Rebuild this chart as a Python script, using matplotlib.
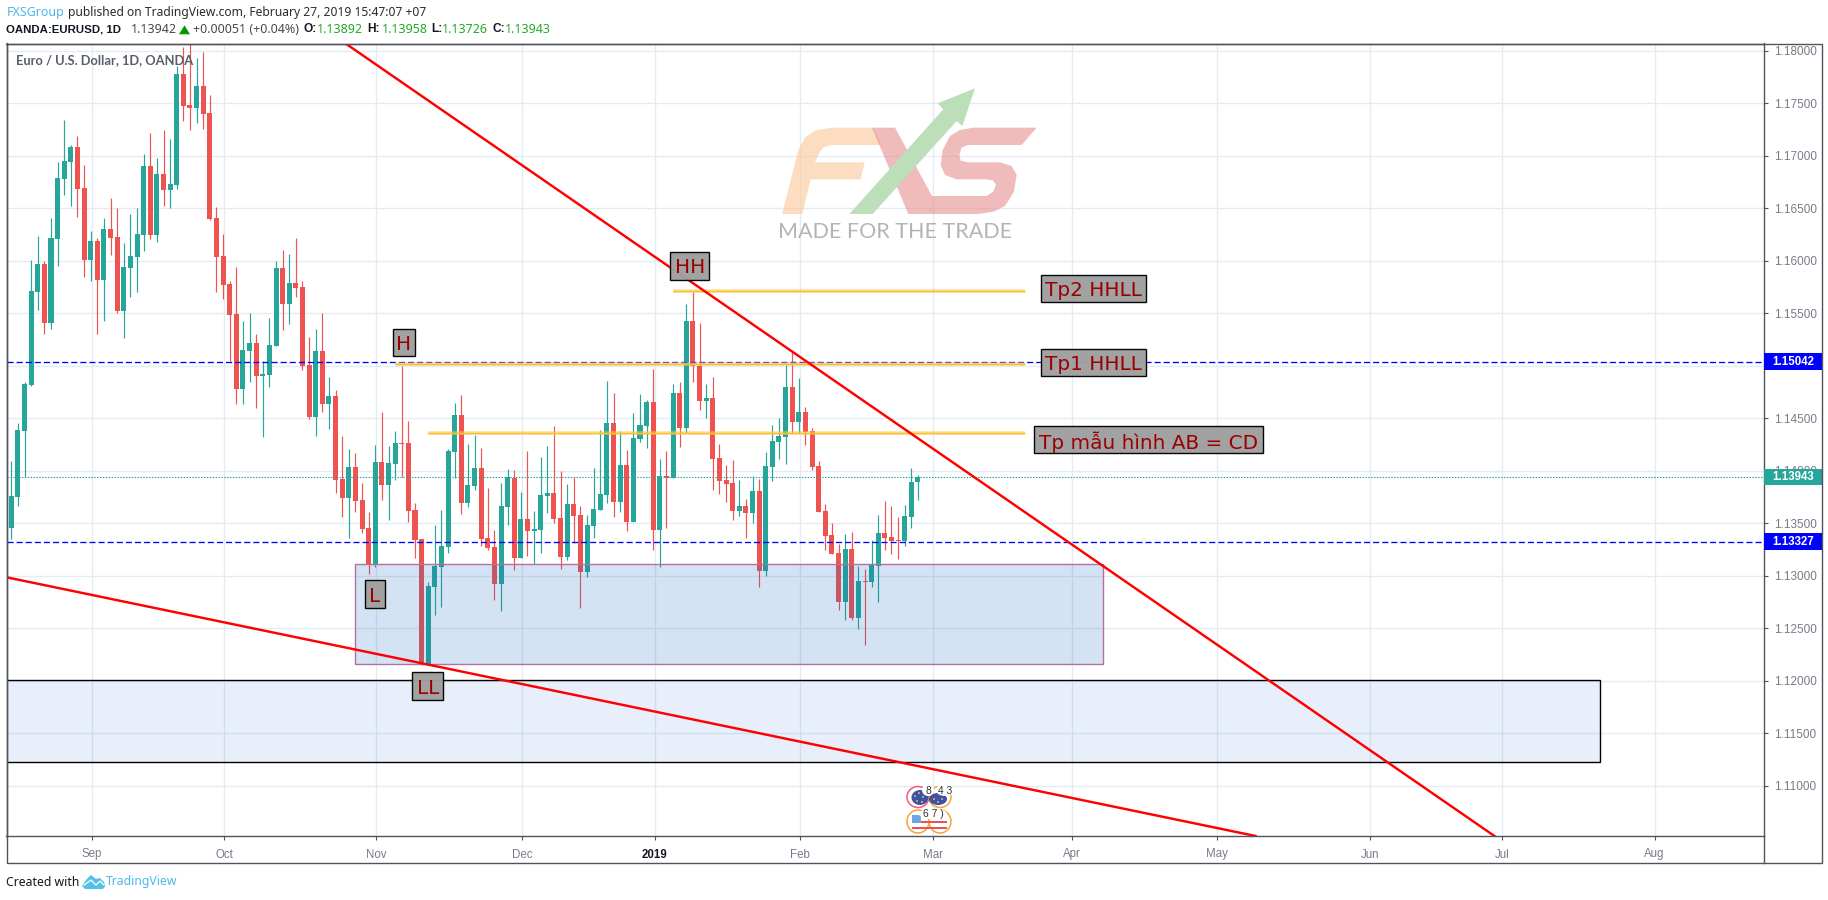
import matplotlib
matplotlib.use("Agg")
import matplotlib.pyplot as plt
import numpy as np
from matplotlib.lines import Line2D
from matplotlib.patches import Ellipse, Polygon, Rectangle

# ======================================================
# Data (EURUSD daily candles)
# ======================================================

open_ = [
    1.13460, 1.13755, 1.14384, 1.14819, 1.15708, 1.15972, 1.15412, 1.16212, 1.16781, 1.16943,
    1.17086, 1.16695, 1.16010, 1.16191, 1.15822, 1.16305, 1.16229, 1.15524, 1.15934, 1.16038,
    1.16248, 1.16905, 1.16248, 1.16829, 1.16676, 1.16724, 1.17781, 1.17486, 1.17457, 1.17667,
    1.17410, 1.16410, 1.16048, 1.15781, 1.15495, 1.14781, 1.15143, 1.15219, 1.14905, 1.14914,
    1.15190, 1.15934, 1.15590, 1.15791, 1.15752, 1.15010, 1.14514, 1.15143, 1.14638, 1.14714,
    1.13924, 1.13743, 1.14038, 1.13724, 1.13457, 1.13114, 1.14086, 1.13867, 1.14067, 1.14267,
    1.14267, 1.13629, 1.13352, 1.12162, 1.12895, 1.13086, 1.13276, 1.14181, 1.14533, 1.13695,
    1.13857, 1.14029, 1.13362, 1.13276, 1.12924, 1.13657, 1.13933, 1.13171, 1.13543, 1.13429,
    1.13438, 1.13762, 1.13790, 1.13552, 1.13181, 1.13686, 1.13581, 1.13038, 1.13476, 1.13629,
    1.13771, 1.14457, 1.13705, 1.14057, 1.13514, 1.14305, 1.14429, 1.14657, 1.13438, 1.13952,
    1.13933, 1.14743, 1.14410, 1.15429, 1.15000, 1.14667, 1.14695, 1.14124, 1.13914, 1.13886,
    1.13619, 1.13667, 1.13600, 1.13810, 1.13048, 1.14038, 1.14276, 1.14324, 1.14800, 1.14467,
    1.14562, 1.14381, 1.14048, 1.13619, 1.13391, 1.13219, 1.12752, 1.13257, 1.12600, 1.12952,
    1.12943, 1.13095, 1.13410, 1.13372, 1.13343, 1.13333, 1.13562, 1.13892,
]
high = [
    1.14095, 1.14457, 1.14847, 1.16010, 1.16238, 1.16000, 1.16410, 1.16943, 1.17343, 1.17105,
    1.17191, 1.16914, 1.16286, 1.16219, 1.16410, 1.16600, 1.16505, 1.16171, 1.16448, 1.16505,
    1.17019, 1.17219, 1.16981, 1.17248, 1.17162, 1.17857, 1.18038, 1.18090, 1.17933, 1.17990,
    1.17581, 1.16514, 1.16257, 1.15810, 1.15943, 1.15429, 1.15505, 1.15305, 1.15048, 1.15457,
    1.16000, 1.16105, 1.16067, 1.16219, 1.15810, 1.15276, 1.15352, 1.15505, 1.14895, 1.14771,
    1.14333, 1.14210, 1.14171, 1.13886, 1.13610, 1.14248, 1.14562, 1.14238, 1.14381, 1.15000,
    1.14476, 1.13695, 1.13352, 1.12943, 1.13486, 1.13629, 1.14210, 1.14648, 1.14724, 1.14257,
    1.14343, 1.14219, 1.13838, 1.13438, 1.13886, 1.14019, 1.14010, 1.13800, 1.14190, 1.13619,
    1.14133, 1.14238, 1.14429, 1.14000, 1.13876, 1.13943, 1.13667, 1.13581, 1.14029, 1.14390,
    1.14857, 1.14743, 1.14381, 1.14200, 1.14552, 1.14733, 1.14676, 1.14971, 1.14114, 1.14190,
    1.14829, 1.14848, 1.15590, 1.15705, 1.15410, 1.14829, 1.14895, 1.14257, 1.14057, 1.14105,
    1.13914, 1.13733, 1.13952, 1.13924, 1.14181, 1.14438, 1.14505, 1.15010, 1.15133, 1.14886,
    1.14610, 1.14410, 1.14095, 1.13686, 1.13505, 1.13305, 1.13400, 1.13419, 1.13095, 1.13067,
    1.13343, 1.13581, 1.13714, 1.13667, 1.13562, 1.13676, 1.14029, 1.13958,
]
low = [
    1.13353, 1.13670, 1.13943, 1.14809, 1.15534, 1.15307, 1.15355, 1.15955, 1.16629, 1.16527,
    1.16419, 1.15848, 1.15810, 1.15307, 1.15432, 1.16057, 1.15505, 1.15269, 1.15657, 1.15705,
    1.16095, 1.16210, 1.16181, 1.16524, 1.16505, 1.16686, 1.17333, 1.17248, 1.17314, 1.17257,
    1.16391, 1.15705, 1.15638, 1.15048, 1.14638, 1.14638, 1.14848, 1.14600, 1.14324, 1.14800,
    1.15190, 1.15343, 1.15400, 1.15657, 1.14962, 1.14495, 1.14333, 1.14562, 1.14400, 1.13790,
    1.13562, 1.13362, 1.13610, 1.13410, 1.13019, 1.13086, 1.13724, 1.13533, 1.13914, 1.13943,
    1.13514, 1.13171, 1.12152, 1.12152, 1.12629, 1.12705, 1.13219, 1.13933, 1.13590, 1.13657,
    1.13819, 1.13286, 1.13248, 1.12771, 1.12667, 1.13486, 1.13057, 1.13171, 1.13190, 1.13114,
    1.13219, 1.13600, 1.13505, 1.13067, 1.13152, 1.13314, 1.12695, 1.12990, 1.13362, 1.13629,
    1.13695, 1.13562, 1.13610, 1.13429, 1.13514, 1.14276, 1.14219, 1.13248, 1.13086, 1.13457,
    1.13933, 1.14229, 1.14362, 1.14848, 1.14581, 1.14505, 1.13819, 1.13781, 1.13705, 1.13533,
    1.13571, 1.13362, 1.13505, 1.12895, 1.13000, 1.13905, 1.14114, 1.14067, 1.14362, 1.14362,
    1.14248, 1.14010, 1.13610, 1.13248, 1.13210, 1.12676, 1.12581, 1.12581, 1.12495, 1.12343,
    1.12895, 1.12752, 1.13248, 1.13210, 1.13162, 1.13286, 1.13457, 1.13726,
]
close = [
    1.13762, 1.14390, 1.14828, 1.15715, 1.15972, 1.15412, 1.16219, 1.16791, 1.16952, 1.17086,
    1.16686, 1.16010, 1.16191, 1.15822, 1.16305, 1.16219, 1.15524, 1.15943, 1.16048, 1.16257,
    1.16905, 1.16248, 1.16829, 1.16676, 1.16733, 1.17781, 1.17476, 1.17457, 1.17667, 1.17400,
    1.16400, 1.16038, 1.15772, 1.15486, 1.14781, 1.15152, 1.15219, 1.14905, 1.14924, 1.15200,
    1.15934, 1.15590, 1.15791, 1.15743, 1.15000, 1.14514, 1.15143, 1.14638, 1.14714, 1.13914,
    1.13743, 1.14038, 1.13714, 1.13448, 1.13114, 1.14086, 1.13867, 1.14076, 1.14267, 1.14257,
    1.13619, 1.13343, 1.12162, 1.12905, 1.13095, 1.13286, 1.14190, 1.14533, 1.13695, 1.13867,
    1.14029, 1.13352, 1.13267, 1.12924, 1.13667, 1.13943, 1.13171, 1.13543, 1.13429, 1.13448,
    1.13771, 1.13790, 1.13543, 1.13181, 1.13686, 1.13571, 1.13038, 1.13486, 1.13638, 1.13781,
    1.14457, 1.13705, 1.14057, 1.13514, 1.14314, 1.14438, 1.14657, 1.13438, 1.13952, 1.13933,
    1.14743, 1.14410, 1.15429, 1.15000, 1.14667, 1.14695, 1.14114, 1.13905, 1.13876, 1.13619,
    1.13667, 1.13600, 1.13810, 1.13048, 1.14048, 1.14286, 1.14333, 1.14800, 1.14467, 1.14562,
    1.14371, 1.14038, 1.13610, 1.13381, 1.13210, 1.12752, 1.13257, 1.12600, 1.12952, 1.12943,
    1.13105, 1.13410, 1.13362, 1.13333, 1.13333, 1.13571, 1.13895, 1.13943,
]

# month ticks, in bars from the first candle
month_pos = [12.15, 32.2, 55.15, 77.2, 97.2, 119.2, 139.2, 160.23, 182.25, 205.25, 225.3, 248.3]
month_labels = ["Sep", "Oct", "Nov", "Dec", "2019", "Feb", "Mar", "Apr", "May", "Jun", "Jul", "Aug"]

price_ticks = [1.11, 1.115, 1.12, 1.125, 1.13, 1.135, 1.14, 1.145, 1.15, 1.155,
               1.16, 1.165, 1.17, 1.175, 1.18]

last_price = 1.13943
level_high = 1.15042
level_low = 1.13327

# trend lines: (bar, price) at both ends
trend_down = ([50.68, 224.1], [1.18064, 1.10524])
trend_low = ([-0.73, 188.0], [1.12988, 1.10524])

# take profit lines: start bar, end bar, price
tp_lines = [
    (99.98, 153.13, 1.15711),
    (57.98, 153.13, 1.15016),
    (62.96, 153.13, 1.14359),
]

# zones: bar from, bar to, price from, price to
zone_support = (51.98, 165.0, 1.12159, 1.13111)
zone_demand = (-0.73, 240.1, 1.11226, 1.12007)

# labels on the chart: text, bar from, bar to, price from, price to
chart_labels = [
    ("H", 57.63, 61.05, 1.15092, 1.15350),
    ("L", 53.49, 56.42, 1.12698, 1.12959),
    ("LL", 60.59, 65.28, 1.11819, 1.12083),
    ("HH", 99.58, 105.47, 1.15822, 1.16083),
    ("Tp2 HHLL", 155.64, 171.50, 1.15607, 1.15864),
    ("Tp1 HHLL", 155.64, 171.50, 1.14902, 1.15159),
    ("Tp mẫu hình AB = CD", 154.58, 189.18, 1.14169, 1.14426),
]

UP = "#26a69a"
DOWN = "#ef5350"
GRID = "#e3ecf2"
FRAME = "#50535e"
TICK_TEXT = "#787b86"
BLUE = "#0000ff"

# ======================================================
# Figure and axes
# ======================================================

W, H = 1828, 900
fig = plt.figure(figsize=(W / 100, H / 100), dpi=100, facecolor="white")

ax = fig.add_axes([6.5 / W, (H - 836) / H, (1764 - 6.5) / W, (836 - 43.5) / H])
ax.set_xlim(-0.725, 264.84)
ax.set_ylim(1.105238, 1.180714)

ax.set_xticks(month_pos)
ax.set_xticklabels(month_labels, fontfamily="Liberation Sans", fontsize=8.3, color=TICK_TEXT)
ax.get_xticklabels()[4].set_fontweight("bold")
ax.get_xticklabels()[4].set_color("#131722")
ax.yaxis.tick_right()
ax.set_yticks(price_ticks)
ax.set_yticklabels([f"{p:.5f}" for p in price_ticks], fontfamily="Liberation Sans",
                   fontsize=8.5, color=TICK_TEXT)
ax.tick_params(axis="x", length=3, width=0.8, color=FRAME, pad=6)
ax.tick_params(axis="y", length=3, width=0.8, color=FRAME, pad=4.3)
ax.grid(True, color=GRID, linewidth=1.0)
ax.set_axisbelow(True)
for spine in ax.spines.values():
    spine.set_color(FRAME)
    spine.set_linewidth(1.0)

# ======================================================
# Candles
# ======================================================

bars = np.arange(len(close))
o = np.array(open_)
c = np.array(close)
colors = [UP if c[i] >= o[i] else DOWN for i in bars]

ax.vlines(bars, low, high, colors=colors, linewidth=0.85, zorder=2)
ax.bar(bars, np.abs(c - o), bottom=np.minimum(o, c), width=0.76, color=colors, zorder=2.1)

# ======================================================
# Zones, levels, trend lines
# ======================================================

x0, x1, y0, y1 = zone_support
ax.add_patch(Rectangle((x0, y0), x1 - x0, y1 - y0, facecolor=(0.082, 0.396, 0.753, 0.18),
                       edgecolor="#b5709f", linewidth=1.0, zorder=3))
x0, x1, y0, y1 = zone_demand
ax.add_patch(Rectangle((x0, y0), x1 - x0, y1 - y0, facecolor=(0.13, 0.39, 0.86, 0.10),
                       edgecolor="black", linewidth=1.0, zorder=3))

ax.axhline(last_price, color=UP, linewidth=0.8, dashes=(1.3, 1.3), zorder=3.2)
for level in [level_high, level_low]:
    ax.axhline(level, color=BLUE, linewidth=0.95, dashes=(4.6, 2.3), zorder=3.2)

for start, end, price in tp_lines:
    ax.plot([start, end], [price, price], color="#f9c74f", linewidth=2.6, alpha=0.55,
            solid_capstyle="butt", zorder=3.4)
    ax.plot([start, end], [price, price], color="#fbc02d", linewidth=1.0,
            solid_capstyle="butt", zorder=3.5)

ax.plot(trend_down[0], trend_down[1], color="#ff0000", linewidth=1.75, zorder=4)
ax.plot(trend_low[0], trend_low[1], color="#ff0000", linewidth=1.75, zorder=4)

for text, bx0, bx1, py0, py1 in chart_labels:
    ax.add_patch(Rectangle((bx0, py0), bx1 - bx0, py1 - py0, facecolor="#9f9f9f",
                           edgecolor="black", linewidth=1.0, alpha=0.97, zorder=5))
    ax.text((bx0 + bx1) / 2, (py0 + py1) / 2, text, color="#990000", fontsize=14.4,
            family="DejaVu Sans", ha="center", va="center_baseline", zorder=5.1)

# ======================================================
# Price labels on the right scale
# ======================================================

right_end = (1821.6 - 6.5) / (1764 - 6.5)
trans = ax.get_yaxis_transform()
for price, colour in [(level_high, BLUE), (level_low, BLUE), (last_price, UP)]:
    ax.add_patch(Rectangle((1.0, price - 0.0008), right_end - 1.0, 0.0016, facecolor=colour,
                           edgecolor="none", transform=trans, clip_on=False, zorder=6))
    ax.text(1.0 + (right_end - 1.0) / 2, price, f"{price:.5f}", color="white", fontsize=8.3,
            fontweight="bold", family="Liberation Sans", ha="center", va="center",
            transform=trans, clip_on=False, zorder=6.1)

# ======================================================
# Page furniture (overlay in pixels)
# ======================================================

top = fig.add_axes([0, 0, 1, 1], zorder=10)
top.set_xlim(0, W)
top.set_ylim(H, 0)
top.axis("off")

top.add_patch(Rectangle((6.5, 43.5), 1821.6 - 6.5, 863.3 - 43.5, fill=False,
                        edgecolor=FRAME, linewidth=1.0))
top.add_line(Line2D([1764, 1764], [836, 863.3], color=FRAME, linewidth=1.0))

HEAD = "Noto Sans"
HEAD_BOLD = "Liberation Sans"
GREEN = "#22ab28"
top.text(6.3, 12.5, "FXSGroup", color="#4db8ea", fontsize=9.0, family=HEAD, va="center")
top.text(68, 12.5, "published on TradingView.com, February 27, 2019 15:47:07 +07",
         color="#2b2b2b", fontsize=8.7, family=HEAD, va="center")

top.text(6.3, 29.5, "OANDA:EURUSD, 1D", color="#131722", fontsize=8.2, family=HEAD_BOLD,
         fontweight="bold", va="center")
top.text(130.7, 29.5, "1.13942", color="#4a4a4a", fontsize=9.0, family=HEAD, va="center")
top.add_patch(Polygon([(179, 34.3), (190, 34.3), (184.5, 25.3)], facecolor="#009900"))
top.text(193.3, 29.5, "+0.00051 (+0.04%)", color="#4a4a4a", fontsize=9.0, family=HEAD, va="center")
for name, xn, value, xv in [("O:", 303.3, "1.13892", 317.3), ("H:", 367.7, "1.13958", 381.7),
                            ("L:", 431.7, "1.13726", 442.3), ("C:", 492.7, "1.13943", 504.7)]:
    top.text(xn, 29.5, name, color="#131722", fontsize=8.6, family=HEAD_BOLD, fontweight="bold", va="center")
    top.text(xv, 29.5, value, color=GREEN, fontsize=9.0, family=HEAD, va="center")

top.text(15.5, 60.5, "Euro / U.S. Dollar, 1D, OANDA", color="#5a5d6a", fontsize=9.3,
         family="Lato", fontweight="bold", va="center")

# footer
top.text(6.5, 882, "Created with", color="#131722", fontsize=8.8, family=HEAD, va="center")
top.add_patch(Polygon([(82, 886), (86, 880), (91, 875), (96, 879), (100, 878), (104, 882),
                       (105.3, 886), (103, 889), (85, 889)], facecolor="#55bfe8"))
top.add_line(Line2D([84, 91, 96, 100, 104], [885, 880, 885, 881, 885], color="white", linewidth=0.9))
top.text(106, 882, "TradingView", color="#4db8ea", fontsize=8.8, family=HEAD, va="center")

# ------------------------------------------------------
# FXS logo watermark
# ------------------------------------------------------


def logo_xy(points):
    return [(760 + px / 3, 60 + py / 3) for px, py in points]


orange_f = [(66, 462), (115, 270), (135, 232), (170, 210), (215, 203), (340, 203), (365, 255),
            (215, 255), (190, 262), (177, 280), (165, 307), (314, 307), (302, 358), (152, 358),
            (127, 462)]
red_xs = [(336, 203), (405, 203), (516, 408), (680, 408), (700, 395), (708, 375), (700, 362),
          (680, 358), (590, 358), (555, 345), (542, 315), (548, 270), (570, 228), (600, 210),
          (640, 203), (830, 203), (785, 255), (625, 255), (605, 262), (598, 285), (602, 302),
          (625, 307), (720, 307), (755, 318), (770, 345), (762, 395), (735, 438), (700, 455),
          (655, 462), (445, 462)]
green_arrow = [(268, 462), (550, 148), (533, 130), (645, 85), (607, 198), (590, 183),
               (338, 462)]

top.add_patch(Polygon(logo_xy(orange_f), facecolor="#fbc99b", alpha=0.62, edgecolor="none"))
top.add_patch(Polygon(logo_xy(red_xs), facecolor="#e58b8b", alpha=0.58, edgecolor="none"))
top.add_patch(Polygon(logo_xy(green_arrow), facecolor="#bbdfb8", alpha=0.98, edgecolor="none"))
top.text(895.5, 232.5, "MADE FOR THE TRADE", color="#b4b4b4", fontsize=15.5, family="Lato",
         ha="center", va="center")

# ------------------------------------------------------
# Economic calendar badges
# ------------------------------------------------------

top.add_patch(Ellipse((918, 797), 22, 21, fill=False, edgecolor="#f4597a", linewidth=1.1))
top.add_patch(Ellipse((940, 797), 22, 21, fill=False, edgecolor="#f9a13a", linewidth=1.1))
top.add_patch(Ellipse((920, 797.5), 17, 15, facecolor="#3f51a5", edgecolor="none"))
top.add_patch(Ellipse((938, 799), 18, 12, facecolor="#3f51a5", edgecolor="none"))
for ex, ey in [(915, 796), (919, 793), (923, 797), (917, 801), (922, 802), (934, 799), (938, 802), (942, 799)]:
    top.add_patch(Ellipse((ex, ey), 1.8, 1.8, facecolor="#f2d23c", edgecolor="none"))

top.add_patch(Ellipse((918, 821.5), 22, 23, facecolor="white", edgecolor="#f9a13a", linewidth=1.1))
top.add_patch(Ellipse((940, 821.5), 22, 23, facecolor="white", edgecolor="#f9a13a", linewidth=1.1))
top.add_patch(Rectangle((912, 820.5), 35, 2.5, facecolor="#e25550", edgecolor="none"))
top.add_patch(Rectangle((912, 826.5), 35, 2.8, facecolor="#e25550", edgecolor="none"))
top.add_patch(Rectangle((912, 815), 9, 8, facecolor="#6fa4e6", edgecolor="none"))

top.add_patch(Ellipse((928, 790), 12, 12, facecolor="white", edgecolor="none"))
top.add_patch(Ellipse((945, 790), 18, 12, facecolor="white", edgecolor="none"))
top.add_patch(Ellipse((933, 814), 28, 11, facecolor="white", edgecolor="none"))
top.text(928, 790.5, "8", color="#333333", fontsize=7.4, family="Liberation Sans", ha="center", va="center")
top.text(945, 790.5, "4 3", color="#333333", fontsize=7.4, family="Liberation Sans", ha="center", va="center")
top.text(933, 814, "6 7 )", color="#333333", fontsize=7.4, family="Liberation Sans", ha="center", va="center")

fig.savefig("out.png", dpi=100)
